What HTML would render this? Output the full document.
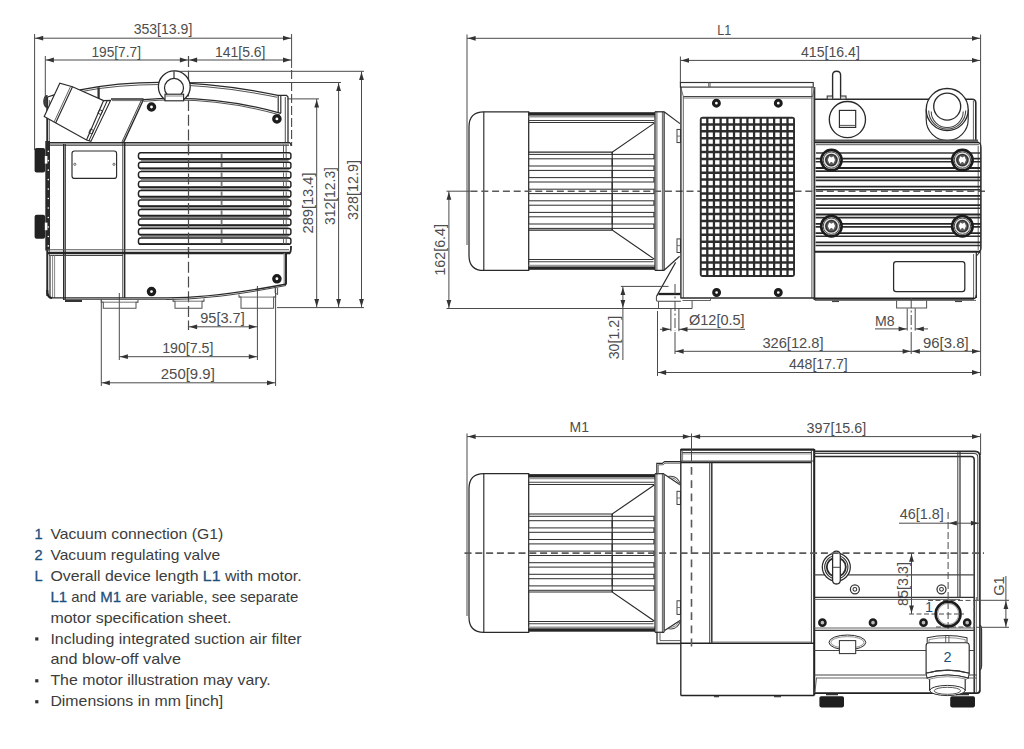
<!DOCTYPE html>
<html lang="en"><head><meta charset="utf-8"><title>Dimensional drawing</title>
<style>
html,body{margin:0;padding:0;background:#fff;}
body{width:1024px;height:749px;overflow:hidden;position:relative;font-family:"Liberation Sans",sans-serif;}
svg{position:absolute;left:0;top:0;display:block;}
svg text{font-family:"Liberation Sans",sans-serif;}
</style></head><body>
<svg width="1024" height="749" viewBox="0 0 1024 749">
<line x1="34.6" y1="34" x2="34.6" y2="150" stroke="#4a4a4a" stroke-width="1"/>
<line x1="45.3" y1="56" x2="45.3" y2="100" stroke="#4a4a4a" stroke-width="1"/>
<line x1="291.6" y1="34" x2="291.6" y2="68" stroke="#4a4a4a" stroke-width="1"/>
<line x1="291.6" y1="70" x2="291.6" y2="146" stroke="#4a4a4a" stroke-width="1.1" stroke-dasharray="9 3"/>
<line x1="188.5" y1="56" x2="188.5" y2="330" stroke="#4a4a4a" stroke-width="1.2" stroke-dasharray="11 3.7"/>
<line x1="34.6" y1="38.2" x2="291.6" y2="38.2" stroke="#4a4a4a" stroke-width="1"/>
<polygon points="35.4,38.2 43.2,35.8 43.2,40.6" fill="#333"/>
<polygon points="290.8,38.2 283,35.8 283,40.6" fill="#333"/>
<line x1="45.3" y1="60" x2="188.5" y2="60" stroke="#4a4a4a" stroke-width="1"/>
<polygon points="46.1,60 53.9,57.6 53.9,62.4" fill="#333"/>
<polygon points="187.7,60 179.9,57.6 179.9,62.4" fill="#333"/>
<line x1="188.5" y1="60" x2="291.6" y2="60" stroke="#4a4a4a" stroke-width="1"/>
<polygon points="189.3,60 197.1,57.6 197.1,62.4" fill="#333"/>
<polygon points="290.8,60 283,57.6 283,62.4" fill="#333"/>
<text x="163" y="34.2" font-size="15" fill="#4d4d4d" text-anchor="middle" textLength="58.7" lengthAdjust="spacingAndGlyphs">353[13.9]</text>
<text x="116.2" y="56.6" font-size="15" fill="#4d4d4d" text-anchor="middle" textLength="49.5" lengthAdjust="spacingAndGlyphs">195[7.7]</text>
<text x="240.2" y="56.6" font-size="15" fill="#4d4d4d" text-anchor="middle" textLength="50.5" lengthAdjust="spacingAndGlyphs">141[5.6]</text>
<line x1="174" y1="71.3" x2="364" y2="71.3" stroke="#4a4a4a" stroke-width="1"/>
<line x1="190" y1="82.5" x2="341" y2="82.5" stroke="#4a4a4a" stroke-width="1"/>
<line x1="287.5" y1="98.9" x2="319" y2="98.9" stroke="#4a4a4a" stroke-width="1"/>
<line x1="277" y1="307.6" x2="364" y2="307.6" stroke="#4a4a4a" stroke-width="1"/>
<line x1="316.7" y1="98.9" x2="316.7" y2="307.6" stroke="#4a4a4a" stroke-width="1"/>
<polygon points="316.7,99.7 314.3,107.5 319.1,107.5" fill="#333"/>
<polygon points="316.7,306.8 314.3,299 319.1,299" fill="#333"/>
<line x1="338.6" y1="82.5" x2="338.6" y2="307.6" stroke="#4a4a4a" stroke-width="1"/>
<polygon points="338.6,83.3 336.2,91.1 341,91.1" fill="#333"/>
<polygon points="338.6,306.8 336.2,299 341,299" fill="#333"/>
<line x1="361.5" y1="71.3" x2="361.5" y2="307.6" stroke="#4a4a4a" stroke-width="1"/>
<polygon points="361.5,72.1 359.1,79.9 363.9,79.9" fill="#333"/>
<polygon points="361.5,306.8 359.1,299 363.9,299" fill="#333"/>
<text x="313" y="203" font-size="15" fill="#4d4d4d" text-anchor="middle" transform="rotate(-90 313 203)" textLength="61" lengthAdjust="spacingAndGlyphs">289[13.4]</text>
<text x="335.2" y="196" font-size="15" fill="#4d4d4d" text-anchor="middle" transform="rotate(-90 335.2 196)" textLength="58" lengthAdjust="spacingAndGlyphs">312[12.3]</text>
<text x="358" y="190" font-size="15" fill="#4d4d4d" text-anchor="middle" transform="rotate(-90 358 190)" textLength="60" lengthAdjust="spacingAndGlyphs">328[12.9]</text>
<line x1="101.3" y1="299" x2="101.3" y2="386" stroke="#4a4a4a" stroke-width="1"/>
<line x1="119.3" y1="293" x2="119.3" y2="360" stroke="#4a4a4a" stroke-width="1"/>
<line x1="257.4" y1="286" x2="257.4" y2="360" stroke="#4a4a4a" stroke-width="1"/>
<line x1="275.6" y1="288" x2="275.6" y2="386" stroke="#4a4a4a" stroke-width="1"/>
<line x1="188.5" y1="326.8" x2="257.4" y2="326.8" stroke="#4a4a4a" stroke-width="1"/>
<polygon points="189.3,326.8 197.1,324.4 197.1,329.2" fill="#333"/>
<polygon points="256.6,326.8 248.8,324.4 248.8,329.2" fill="#333"/>
<line x1="119.3" y1="356.7" x2="257.4" y2="356.7" stroke="#4a4a4a" stroke-width="1"/>
<polygon points="120.1,356.7 127.9,354.3 127.9,359.1" fill="#333"/>
<polygon points="256.6,356.7 248.8,354.3 248.8,359.1" fill="#333"/>
<line x1="101.3" y1="382.8" x2="275.6" y2="382.8" stroke="#4a4a4a" stroke-width="1"/>
<polygon points="102.1,382.8 109.9,380.4 109.9,385.2" fill="#333"/>
<polygon points="274.8,382.8 267,380.4 267,385.2" fill="#333"/>
<text x="222.5" y="323" font-size="15" fill="#4d4d4d" text-anchor="middle" textLength="44.5" lengthAdjust="spacingAndGlyphs">95[3.7]</text>
<text x="187.8" y="353.2" font-size="15" fill="#4d4d4d" text-anchor="middle" textLength="51.3" lengthAdjust="spacingAndGlyphs">190[7.5]</text>
<text x="187.8" y="379.3" font-size="15" fill="#4d4d4d" text-anchor="middle" textLength="54" lengthAdjust="spacingAndGlyphs">250[9.9]</text>
<path d="M47.5 97 Q 60 92.5 80 89.8 Q 168 72.5 278 95.4" fill="none" stroke="#2a2a2a" stroke-width="1.26"/>
<path d="M82 91.4 Q 168 75.2 277 97.2" fill="none" stroke="#555" stroke-width="1.03"/>
<path d="M143.6 99.6 Q 212.3 93.8 281 113.3" fill="none" stroke="#2a2a2a" stroke-width="1.26"/>
<path d="M143.6 101.2 Q 212.3 95.6 280 115" fill="none" stroke="#555" stroke-width="1.03"/>
<line x1="111" y1="99" x2="143.6" y2="99" stroke="#2a2a2a" stroke-width="1.38"/>
<line x1="112" y1="100.6" x2="143" y2="100.6" stroke="#666" stroke-width="0.92"/>
<line x1="143.6" y1="99.2" x2="123.6" y2="142.4" stroke="#2a2a2a" stroke-width="1.38"/>
<line x1="141.6" y1="99.6" x2="121.8" y2="142.4" stroke="#444" stroke-width="1.03"/>
<line x1="98.6" y1="87.3" x2="98.6" y2="98.3" stroke="#333" stroke-width="2.3"/>
<path d="M278 95.4 L286.5 95.4 L288 97 L288 142.4" fill="none" stroke="#2a2a2a" stroke-width="1.26"/>
<line x1="278.2" y1="95.4" x2="278.2" y2="112.6" stroke="#2a2a2a" stroke-width="1.15"/>
<line x1="280.8" y1="96" x2="280.8" y2="113.3" stroke="#2a2a2a" stroke-width="1.15"/>
<line x1="285.3" y1="97" x2="285.3" y2="142.4" stroke="#555" stroke-width="1.03"/>
<clipPath id="cpe"><rect x="150" y="60" width="50" height="40.6"/></clipPath>
<g clip-path="url(#cpe)">
<circle cx="174.3" cy="86.8" r="15.9" fill="#fff" stroke="#2a2a2a" stroke-width="1.32"/>
<circle cx="174" cy="87.9" r="9.5" fill="#fff" stroke="#2a2a2a" stroke-width="1.26"/>
</g>
<line x1="174" y1="71.2" x2="174" y2="78.4" stroke="#2a2a2a" stroke-width="1.15"/>
<rect x="165" y="94.2" width="18.6" height="6.6" fill="#fff" stroke="#2a2a2a" stroke-width="1.15"/>
<line x1="165" y1="96" x2="183.6" y2="96" stroke="#666" stroke-width="0.8"/>
<line x1="47.2" y1="97" x2="47.2" y2="296" stroke="#2a2a2a" stroke-width="1.84"/>
<line x1="49.3" y1="100" x2="49.3" y2="296" stroke="#555" stroke-width="0.92"/>
<path d="M47 95.5 A 3.2 6 0 0 0 47 107.5 Z" fill="#444" stroke="#333" stroke-width="1.15"/>
<path d="M59.8 83.2 L44.2 116.5 L86.5 140 L90.9 141.4 L110.6 100.4 L103.6 100.6 L72.5 86.7 Z" fill="#fff" stroke="#2a2a2a" stroke-width="1.15"/>
<line x1="72.5" y1="86.7" x2="55.6" y2="123" stroke="#2a2a2a" stroke-width="1.15"/>
<line x1="70.7" y1="86.2" x2="54" y2="122.2" stroke="#555" stroke-width="0.92"/>
<line x1="103.6" y1="100.6" x2="86.5" y2="140" stroke="#2a2a2a" stroke-width="1.15"/>
<line x1="107.3" y1="100.5" x2="88.9" y2="140.9" stroke="#2a2a2a" stroke-width="1.03"/>
<path d="M99.5 109.6 L102.6 111 L101 114.6 L97.9 113.2 Z" fill="none" stroke="#2a2a2a" stroke-width="0.92"/>
<path d="M90.5 129 L93.6 130.4 L92 134 L88.9 132.6 Z" fill="none" stroke="#2a2a2a" stroke-width="0.92"/>
<line x1="47.2" y1="142.7" x2="289" y2="142.7" stroke="#2a2a2a" stroke-width="1.49"/>
<line x1="49" y1="145.2" x2="289" y2="145.2" stroke="#3a3a3a" stroke-width="1.26"/>
<path d="M289 142.4 Q 291 143 291 146" fill="none" stroke="#2a2a2a" stroke-width="1.15"/>
<line x1="63.7" y1="144" x2="63.7" y2="300" stroke="#2a2a2a" stroke-width="1.38"/>
<line x1="65.3" y1="144" x2="65.3" y2="300" stroke="#3a3a3a" stroke-width="1.15"/>
<line x1="122.8" y1="143" x2="122.8" y2="298" stroke="#444" stroke-width="1.03"/>
<line x1="124.7" y1="143" x2="124.7" y2="298" stroke="#2a2a2a" stroke-width="1.38"/>
<rect x="72" y="151" width="44.6" height="27.4" fill="none" stroke="#2a2a2a" stroke-width="1.15" rx="2.5"/>
<circle cx="74.8" cy="164.3" r="1.1" fill="none" stroke="#444" stroke-width="0.8"/>
<circle cx="114" cy="164.3" r="1.1" fill="none" stroke="#444" stroke-width="0.8"/>
<rect x="34.6" y="148" width="10.5" height="24.6" fill="#222" rx="2"/>
<rect x="34.6" y="214.8" width="10.5" height="24" fill="#222" rx="2"/>
<rect x="45.3" y="141" width="4.7" height="109.5" fill="#2a2a2a"/>
<circle cx="48.3" cy="151.2" r="0.8" fill="#fff"/>
<circle cx="48.3" cy="160.67" r="0.8" fill="#fff"/>
<circle cx="48.3" cy="170.14" r="0.8" fill="#fff"/>
<circle cx="48.3" cy="179.61" r="0.8" fill="#fff"/>
<circle cx="48.3" cy="189.08" r="0.8" fill="#fff"/>
<circle cx="48.3" cy="198.55" r="0.8" fill="#fff"/>
<circle cx="48.3" cy="208.02" r="0.8" fill="#fff"/>
<circle cx="48.3" cy="217.49" r="0.8" fill="#fff"/>
<circle cx="48.3" cy="226.96" r="0.8" fill="#fff"/>
<circle cx="48.3" cy="236.43" r="0.8" fill="#fff"/>
<circle cx="48.3" cy="245.9" r="0.8" fill="#fff"/>
<rect x="44.8" y="156" width="2.6" height="7.6" fill="#fff"/>
<rect x="44.8" y="222.6" width="2.6" height="7.6" fill="#fff"/>
<path d="M140.6 152.7 H 288.8 Q 290.9 152.7 290.9 154.8 V 157 Q 290.9 159.1 288.8 159.1 H 140.6 Q 138.4 159.1 138.4 155.9 Q 138.4 152.7 140.6 152.7 Z" fill="#fff" stroke="#222" stroke-width="1.44"/>
<line x1="140" y1="158.8" x2="289" y2="158.8" stroke="#222" stroke-width="1.72"/>
<line x1="141" y1="160.65" x2="288.5" y2="160.65" stroke="#8a8a8a" stroke-width="1.49"/>
<line x1="221.6" y1="153.5" x2="221.6" y2="158.3" stroke="#777" stroke-width="1.84"/>
<line x1="283.5" y1="153.5" x2="283.5" y2="158.3" stroke="#666" stroke-width="1.03"/>
<line x1="286.2" y1="153.5" x2="286.2" y2="158.3" stroke="#666" stroke-width="1.03"/>
<path d="M140.6 162.17 H 288.8 Q 290.9 162.17 290.9 164.27 V 166.47 Q 290.9 168.57 288.8 168.57 H 140.6 Q 138.4 168.57 138.4 165.37 Q 138.4 162.17 140.6 162.17 Z" fill="#fff" stroke="#222" stroke-width="1.44"/>
<line x1="140" y1="168.27" x2="289" y2="168.27" stroke="#222" stroke-width="1.72"/>
<line x1="141" y1="170.12" x2="288.5" y2="170.12" stroke="#8a8a8a" stroke-width="1.49"/>
<line x1="221.6" y1="162.97" x2="221.6" y2="167.77" stroke="#777" stroke-width="1.84"/>
<line x1="283.5" y1="162.97" x2="283.5" y2="167.77" stroke="#666" stroke-width="1.03"/>
<line x1="286.2" y1="162.97" x2="286.2" y2="167.77" stroke="#666" stroke-width="1.03"/>
<path d="M140.6 171.64 H 288.8 Q 290.9 171.64 290.9 173.74 V 175.94 Q 290.9 178.04 288.8 178.04 H 140.6 Q 138.4 178.04 138.4 174.84 Q 138.4 171.64 140.6 171.64 Z" fill="#fff" stroke="#222" stroke-width="1.44"/>
<line x1="140" y1="177.74" x2="289" y2="177.74" stroke="#222" stroke-width="1.72"/>
<line x1="141" y1="179.59" x2="288.5" y2="179.59" stroke="#8a8a8a" stroke-width="1.49"/>
<line x1="221.6" y1="172.44" x2="221.6" y2="177.24" stroke="#777" stroke-width="1.84"/>
<line x1="283.5" y1="172.44" x2="283.5" y2="177.24" stroke="#666" stroke-width="1.03"/>
<line x1="286.2" y1="172.44" x2="286.2" y2="177.24" stroke="#666" stroke-width="1.03"/>
<path d="M140.6 181.11 H 288.8 Q 290.9 181.11 290.9 183.21 V 185.41 Q 290.9 187.51 288.8 187.51 H 140.6 Q 138.4 187.51 138.4 184.31 Q 138.4 181.11 140.6 181.11 Z" fill="#fff" stroke="#222" stroke-width="1.44"/>
<line x1="140" y1="187.21" x2="289" y2="187.21" stroke="#222" stroke-width="1.72"/>
<line x1="141" y1="189.06" x2="288.5" y2="189.06" stroke="#8a8a8a" stroke-width="1.49"/>
<line x1="221.6" y1="181.91" x2="221.6" y2="186.71" stroke="#777" stroke-width="1.84"/>
<line x1="283.5" y1="181.91" x2="283.5" y2="186.71" stroke="#666" stroke-width="1.03"/>
<line x1="286.2" y1="181.91" x2="286.2" y2="186.71" stroke="#666" stroke-width="1.03"/>
<path d="M140.6 190.58 H 288.8 Q 290.9 190.58 290.9 192.68 V 194.88 Q 290.9 196.98 288.8 196.98 H 140.6 Q 138.4 196.98 138.4 193.78 Q 138.4 190.58 140.6 190.58 Z" fill="#fff" stroke="#222" stroke-width="1.44"/>
<line x1="140" y1="196.68" x2="289" y2="196.68" stroke="#222" stroke-width="1.72"/>
<line x1="141" y1="198.53" x2="288.5" y2="198.53" stroke="#8a8a8a" stroke-width="1.49"/>
<line x1="221.6" y1="191.38" x2="221.6" y2="196.18" stroke="#777" stroke-width="1.84"/>
<line x1="283.5" y1="191.38" x2="283.5" y2="196.18" stroke="#666" stroke-width="1.03"/>
<line x1="286.2" y1="191.38" x2="286.2" y2="196.18" stroke="#666" stroke-width="1.03"/>
<path d="M140.6 200.05 H 288.8 Q 290.9 200.05 290.9 202.15 V 204.35 Q 290.9 206.45 288.8 206.45 H 140.6 Q 138.4 206.45 138.4 203.25 Q 138.4 200.05 140.6 200.05 Z" fill="#fff" stroke="#222" stroke-width="1.44"/>
<line x1="140" y1="206.15" x2="289" y2="206.15" stroke="#222" stroke-width="1.72"/>
<line x1="141" y1="208" x2="288.5" y2="208" stroke="#8a8a8a" stroke-width="1.49"/>
<line x1="221.6" y1="200.85" x2="221.6" y2="205.65" stroke="#777" stroke-width="1.84"/>
<line x1="283.5" y1="200.85" x2="283.5" y2="205.65" stroke="#666" stroke-width="1.03"/>
<line x1="286.2" y1="200.85" x2="286.2" y2="205.65" stroke="#666" stroke-width="1.03"/>
<path d="M140.6 209.52 H 288.8 Q 290.9 209.52 290.9 211.62 V 213.82 Q 290.9 215.92 288.8 215.92 H 140.6 Q 138.4 215.92 138.4 212.72 Q 138.4 209.52 140.6 209.52 Z" fill="#fff" stroke="#222" stroke-width="1.44"/>
<line x1="140" y1="215.62" x2="289" y2="215.62" stroke="#222" stroke-width="1.72"/>
<line x1="141" y1="217.47" x2="288.5" y2="217.47" stroke="#8a8a8a" stroke-width="1.49"/>
<line x1="221.6" y1="210.32" x2="221.6" y2="215.12" stroke="#777" stroke-width="1.84"/>
<line x1="283.5" y1="210.32" x2="283.5" y2="215.12" stroke="#666" stroke-width="1.03"/>
<line x1="286.2" y1="210.32" x2="286.2" y2="215.12" stroke="#666" stroke-width="1.03"/>
<path d="M140.6 218.99 H 288.8 Q 290.9 218.99 290.9 221.09 V 223.29 Q 290.9 225.39 288.8 225.39 H 140.6 Q 138.4 225.39 138.4 222.19 Q 138.4 218.99 140.6 218.99 Z" fill="#fff" stroke="#222" stroke-width="1.44"/>
<line x1="140" y1="225.09" x2="289" y2="225.09" stroke="#222" stroke-width="1.72"/>
<line x1="141" y1="226.94" x2="288.5" y2="226.94" stroke="#8a8a8a" stroke-width="1.49"/>
<line x1="221.6" y1="219.79" x2="221.6" y2="224.59" stroke="#777" stroke-width="1.84"/>
<line x1="283.5" y1="219.79" x2="283.5" y2="224.59" stroke="#666" stroke-width="1.03"/>
<line x1="286.2" y1="219.79" x2="286.2" y2="224.59" stroke="#666" stroke-width="1.03"/>
<path d="M140.6 228.46 H 288.8 Q 290.9 228.46 290.9 230.56 V 232.76 Q 290.9 234.86 288.8 234.86 H 140.6 Q 138.4 234.86 138.4 231.66 Q 138.4 228.46 140.6 228.46 Z" fill="#fff" stroke="#222" stroke-width="1.44"/>
<line x1="140" y1="234.56" x2="289" y2="234.56" stroke="#222" stroke-width="1.72"/>
<line x1="141" y1="236.41" x2="288.5" y2="236.41" stroke="#8a8a8a" stroke-width="1.49"/>
<line x1="221.6" y1="229.26" x2="221.6" y2="234.06" stroke="#777" stroke-width="1.84"/>
<line x1="283.5" y1="229.26" x2="283.5" y2="234.06" stroke="#666" stroke-width="1.03"/>
<line x1="286.2" y1="229.26" x2="286.2" y2="234.06" stroke="#666" stroke-width="1.03"/>
<path d="M140.6 237.93 H 288.8 Q 290.9 237.93 290.9 240.03 V 242.23 Q 290.9 244.33 288.8 244.33 H 140.6 Q 138.4 244.33 138.4 241.13 Q 138.4 237.93 140.6 237.93 Z" fill="#fff" stroke="#222" stroke-width="1.44"/>
<line x1="140" y1="244.03" x2="289" y2="244.03" stroke="#222" stroke-width="1.72"/>
<line x1="221.6" y1="238.73" x2="221.6" y2="243.53" stroke="#777" stroke-width="1.84"/>
<line x1="283.5" y1="238.73" x2="283.5" y2="243.53" stroke="#666" stroke-width="1.03"/>
<line x1="286.2" y1="238.73" x2="286.2" y2="243.53" stroke="#666" stroke-width="1.03"/>
<line x1="188.5" y1="144.2" x2="188.5" y2="254" stroke="#4a4a4a" stroke-width="1.2" stroke-dasharray="11 3.7"/>
<line x1="47.2" y1="249.7" x2="289" y2="249.7" stroke="#555" stroke-width="1.15"/>
<line x1="47.2" y1="253" x2="289.5" y2="253" stroke="#262626" stroke-width="2.42"/>
<line x1="49" y1="255.6" x2="123" y2="255.6" stroke="#444" stroke-width="1.03"/>
<path d="M289 253.6 Q 291.2 252.6 291 246" fill="none" stroke="#262626" stroke-width="1.84"/>
<line x1="283.5" y1="144.6" x2="283.5" y2="152" stroke="#555" stroke-width="1.03"/>
<line x1="286.1" y1="144.6" x2="286.1" y2="152" stroke="#555" stroke-width="1.03"/>
<line x1="50.5" y1="255" x2="50.5" y2="298" stroke="#666" stroke-width="0.8"/>
<line x1="52.6" y1="255" x2="52.6" y2="298" stroke="#666" stroke-width="0.8"/>
<line x1="54.6" y1="255" x2="54.6" y2="298" stroke="#666" stroke-width="0.8"/>
<path d="M47.2 290 Q 47.2 298 52 298" fill="none" stroke="#222" stroke-width="2.07"/>
<line x1="50" y1="297.9" x2="124" y2="297.9" stroke="#2a2a2a" stroke-width="1.38"/>
<line x1="64" y1="299.4" x2="124" y2="299.4" stroke="#444" stroke-width="0.92"/>
<rect x="65" y="300" width="17" height="2" fill="#333"/>
<line x1="286" y1="253" x2="286" y2="284" stroke="#262626" stroke-width="1.95"/>
<line x1="284.2" y1="253" x2="284.2" y2="284" stroke="#888" stroke-width="1.15"/>
<path d="M124 297.9 H 166 Q 212 298.2 286.6 284" fill="none" stroke="#2a2a2a" stroke-width="1.38"/>
<path d="M166 299.4 Q 212 299.8 286 285.6" fill="none" stroke="#444" stroke-width="1.03"/>
<path d="M275.2 288.2 V 293 L 277.6 294.6 V 287.8" fill="none" stroke="#444" stroke-width="0.92"/>
<line x1="124" y1="299.4" x2="166" y2="299.4" stroke="#444" stroke-width="0.92"/>
<path d="M101.3 299.6 L101.3 302.2 L103.3 302.2 L103.3 308.2 L136 308.2 L136 302.2 L138 302.2 L138 299.6" fill="none" stroke="#555" stroke-width="1.03"/>
<line x1="101.3" y1="302.2" x2="138" y2="302.2" stroke="#666" stroke-width="0.92"/>
<path d="M173 298.6 L173 301.2 L175 301.2 L175 308.2 L202 308.2 L202 301.2 L204 301.2 L204 298.6" fill="none" stroke="#555" stroke-width="1.03"/>
<line x1="173" y1="301.2" x2="204" y2="301.2" stroke="#666" stroke-width="0.92"/>
<path d="M239 294.5 L239 297.1 L241 297.1 L241 308.2 L273.6 308.2 L273.6 297.1 L275.6 297.1 L275.6 294.5" fill="none" stroke="#555" stroke-width="1.03"/>
<line x1="239" y1="297.1" x2="275.6" y2="297.1" stroke="#666" stroke-width="0.92"/>
<circle cx="151.5" cy="107" r="3.1" fill="#fff" stroke="#1c1c1c" stroke-width="3.33"/>
<circle cx="276.9" cy="118.9" r="3.1" fill="#fff" stroke="#1c1c1c" stroke-width="3.33"/>
<circle cx="276.9" cy="278.8" r="3.1" fill="#fff" stroke="#1c1c1c" stroke-width="3.33"/>
<circle cx="151.5" cy="291.6" r="3.1" fill="#fff" stroke="#1c1c1c" stroke-width="3.33"/>
<line x1="467" y1="34.5" x2="467" y2="245" stroke="#4a4a4a" stroke-width="1"/>
<line x1="980.6" y1="34.5" x2="980.6" y2="376" stroke="#4a4a4a" stroke-width="1"/>
<line x1="680.4" y1="56.5" x2="680.4" y2="83" stroke="#4a4a4a" stroke-width="1"/>
<line x1="467" y1="38.3" x2="980.6" y2="38.3" stroke="#4a4a4a" stroke-width="1"/>
<polygon points="467.8,38.3 475.6,35.9 475.6,40.7" fill="#333"/>
<polygon points="979.8,38.3 972,35.9 972,40.7" fill="#333"/>
<line x1="680.4" y1="60.4" x2="980.6" y2="60.4" stroke="#4a4a4a" stroke-width="1"/>
<polygon points="681.2,60.4 689,58 689,62.8" fill="#333"/>
<polygon points="979.8,60.4 972,58 972,62.8" fill="#333"/>
<text x="724.3" y="34.8" font-size="15" fill="#4d4d4d" text-anchor="middle" textLength="14" lengthAdjust="spacingAndGlyphs">L1</text>
<text x="830.4" y="56.9" font-size="15" fill="#4d4d4d" text-anchor="middle" textLength="58.8" lengthAdjust="spacingAndGlyphs">415[16.4]</text>
<path d="M483.8 111.8 H 528.7 V 270.4 H 483.8 Q 469 270.4 469 255.4 V 126.8 Q 469 111.8 483.8 111.8 Z" fill="#fff" stroke="#2a2a2a" stroke-width="1.26"/>
<line x1="483.8" y1="111.8" x2="483.8" y2="270.4" stroke="#2a2a2a" stroke-width="1.15"/>
<rect x="528.7" y="112.2" width="126.3" height="3.4" fill="#262626"/>
<line x1="528.7" y1="116.7" x2="655" y2="116.7" stroke="#999" stroke-width="1.49"/>
<line x1="528.7" y1="120.4" x2="654" y2="120.4" stroke="#444" stroke-width="1.03"/>
<line x1="528.7" y1="122.6" x2="654" y2="122.6" stroke="#333" stroke-width="1.03"/>
<rect x="528.7" y="266.4" width="126.3" height="3.4" fill="#262626"/>
<line x1="528.7" y1="265.4" x2="655" y2="265.4" stroke="#999" stroke-width="1.49"/>
<line x1="528.7" y1="261.8" x2="653.5" y2="261.8" stroke="#444" stroke-width="1.03"/>
<line x1="528.7" y1="259.6" x2="653.5" y2="259.6" stroke="#333" stroke-width="1.03"/>
<path d="M528.7 152.1 L612.2 152.1 L654.3 123.1" fill="none" stroke="#2a2a2a" stroke-width="1.15"/>
<path d="M528.7 230.1 L612.2 230.1 L654.3 259.1" fill="none" stroke="#2a2a2a" stroke-width="1.15"/>
<line x1="612.2" y1="152.1" x2="612.2" y2="230.1" stroke="#2a2a2a" stroke-width="1.15"/>
<rect x="528.7" y="154.4" width="125.2" height="4.4" fill="#fff" stroke="#333" stroke-width="1.03"/>
<rect x="528.7" y="166" width="125.2" height="4.4" fill="#fff" stroke="#333" stroke-width="1.03"/>
<rect x="528.7" y="177.6" width="125.2" height="4.4" fill="#fff" stroke="#333" stroke-width="1.03"/>
<rect x="528.7" y="189.2" width="125.2" height="4.4" fill="#fff" stroke="#333" stroke-width="1.03"/>
<rect x="528.7" y="200.8" width="125.2" height="4.4" fill="#fff" stroke="#333" stroke-width="1.03"/>
<rect x="528.7" y="212.4" width="125.2" height="4.4" fill="#fff" stroke="#333" stroke-width="1.03"/>
<rect x="528.7" y="224" width="125.2" height="4.4" fill="#fff" stroke="#333" stroke-width="1.03"/>
<line x1="612.2" y1="152.1" x2="612.2" y2="230.1" stroke="#2a2a2a" stroke-width="1.15"/>
<line x1="655" y1="111.8" x2="655" y2="270.4" stroke="#2a2a2a" stroke-width="1.26"/>
<line x1="656.9" y1="111.8" x2="656.9" y2="270.4" stroke="#555" stroke-width="0.92"/>
<line x1="662.4" y1="111.8" x2="662.4" y2="270.4" stroke="#555" stroke-width="0.92"/>
<line x1="664.1" y1="111.8" x2="664.1" y2="270.4" stroke="#2a2a2a" stroke-width="1.26"/>
<line x1="655" y1="111.8" x2="664.1" y2="111.8" stroke="#2a2a2a" stroke-width="1.26"/>
<line x1="655" y1="270.4" x2="664.1" y2="270.4" stroke="#2a2a2a" stroke-width="1.26"/>
<rect x="677" y="129.4" width="3.4" height="13.2" fill="none" stroke="#333" stroke-width="0.92"/>
<line x1="677" y1="136.1" x2="680.4" y2="136.1" stroke="#555" stroke-width="0.8"/>
<rect x="677" y="238.9" width="3.4" height="13.6" fill="none" stroke="#333" stroke-width="0.92"/>
<line x1="677" y1="245.6" x2="680.4" y2="245.6" stroke="#555" stroke-width="0.8"/>
<line x1="664.1" y1="111.7" x2="680" y2="123.6" stroke="#2a2a2a" stroke-width="1.15"/>
<line x1="664.1" y1="270.3" x2="679.6" y2="256.2" stroke="#2a2a2a" stroke-width="1.15"/>
<line x1="675.6" y1="262.4" x2="656.9" y2="295.6" stroke="#2a2a2a" stroke-width="1.15"/>
<line x1="658.4" y1="294" x2="680.4" y2="294" stroke="#222" stroke-width="2.3"/>
<path d="M658 294.9 Q 656.4 295 656.4 297 V 300 Q 656.4 301.3 658 301.3 H 680.9" fill="none" stroke="#444" stroke-width="1.03"/>
<path d="M658.5 301.3 L658.5 308.5" fill="none" stroke="#555" stroke-width="1.03"/>
<path d="M692.1 300.6 L692.1 308.5" fill="none" stroke="#555" stroke-width="1.03"/>
<line x1="470.5" y1="191.2" x2="985" y2="191.2" stroke="#5a5a5a" stroke-width="1.61" stroke-dasharray="7 3.8"/>
<rect x="680.4" y="82.5" width="132.8" height="4.6" fill="#fff" stroke="#333" stroke-width="1.15"/>
<line x1="710" y1="82.5" x2="710" y2="87.1" stroke="#444" stroke-width="0.92"/>
<line x1="708.6" y1="82.5" x2="708.6" y2="87.1" stroke="#666" stroke-width="0.92"/>
<line x1="680.9" y1="86.8" x2="680.9" y2="298" stroke="#2a2a2a" stroke-width="1.38"/>
<line x1="683.3" y1="96.4" x2="683.3" y2="298" stroke="#555" stroke-width="0.92"/>
<line x1="811.9" y1="87.1" x2="811.9" y2="298" stroke="#555" stroke-width="1.03"/>
<line x1="814.4" y1="87.1" x2="814.4" y2="300" stroke="#333" stroke-width="1.84"/>
<line x1="683.3" y1="96.4" x2="812.5" y2="96.4" stroke="#444" stroke-width="1.03"/>
<line x1="683.3" y1="98" x2="812.5" y2="98" stroke="#666" stroke-width="0.92"/>
<line x1="681" y1="88" x2="683.3" y2="96.4" stroke="#555" stroke-width="0.8"/>
<line x1="814.5" y1="88" x2="812.5" y2="96.4" stroke="#555" stroke-width="0.8"/>
<line x1="680.4" y1="298" x2="814.8" y2="298" stroke="#2a2a2a" stroke-width="1.72"/>
<line x1="682.5" y1="300.5" x2="710.5" y2="300.5" stroke="#555" stroke-width="0.92"/>
<line x1="710.5" y1="298" x2="710.5" y2="300.5" stroke="#555" stroke-width="0.92"/>
<rect x="699.8" y="116.7" width="95.2" height="160.3" fill="#2c2c2c" rx="3"/>
<path d="M701.74 118.75h4.4v4.4h-4.4zM701.74 125.65h4.4v4.4h-4.4zM701.74 132.55h4.4v4.4h-4.4zM701.74 139.45h4.4v4.4h-4.4zM701.74 146.35h4.4v4.4h-4.4zM701.74 153.25h4.4v4.4h-4.4zM701.74 160.15h4.4v4.4h-4.4zM701.74 167.05h4.4v4.4h-4.4zM701.74 173.95h4.4v4.4h-4.4zM701.74 180.85h4.4v4.4h-4.4zM701.74 187.75h4.4v4.4h-4.4zM701.74 194.65h4.4v4.4h-4.4zM701.74 201.55h4.4v4.4h-4.4zM701.74 208.45h4.4v4.4h-4.4zM701.74 215.35h4.4v4.4h-4.4zM701.74 222.25h4.4v4.4h-4.4zM701.74 229.15h4.4v4.4h-4.4zM701.74 236.05h4.4v4.4h-4.4zM701.74 242.95h4.4v4.4h-4.4zM701.74 249.85h4.4v4.4h-4.4zM701.74 256.75h4.4v4.4h-4.4zM701.74 263.65h4.4v4.4h-4.4zM701.74 270.55h4.4v4.4h-4.4zM708.43 118.75h4.4v4.4h-4.4zM708.43 125.65h4.4v4.4h-4.4zM708.43 132.55h4.4v4.4h-4.4zM708.43 139.45h4.4v4.4h-4.4zM708.43 146.35h4.4v4.4h-4.4zM708.43 153.25h4.4v4.4h-4.4zM708.43 160.15h4.4v4.4h-4.4zM708.43 167.05h4.4v4.4h-4.4zM708.43 173.95h4.4v4.4h-4.4zM708.43 180.85h4.4v4.4h-4.4zM708.43 187.75h4.4v4.4h-4.4zM708.43 194.65h4.4v4.4h-4.4zM708.43 201.55h4.4v4.4h-4.4zM708.43 208.45h4.4v4.4h-4.4zM708.43 215.35h4.4v4.4h-4.4zM708.43 222.25h4.4v4.4h-4.4zM708.43 229.15h4.4v4.4h-4.4zM708.43 236.05h4.4v4.4h-4.4zM708.43 242.95h4.4v4.4h-4.4zM708.43 249.85h4.4v4.4h-4.4zM708.43 256.75h4.4v4.4h-4.4zM708.43 263.65h4.4v4.4h-4.4zM708.43 270.55h4.4v4.4h-4.4zM715.11 118.75h4.4v4.4h-4.4zM715.11 125.65h4.4v4.4h-4.4zM715.11 132.55h4.4v4.4h-4.4zM715.11 139.45h4.4v4.4h-4.4zM715.11 146.35h4.4v4.4h-4.4zM715.11 153.25h4.4v4.4h-4.4zM715.11 160.15h4.4v4.4h-4.4zM715.11 167.05h4.4v4.4h-4.4zM715.11 173.95h4.4v4.4h-4.4zM715.11 180.85h4.4v4.4h-4.4zM715.11 187.75h4.4v4.4h-4.4zM715.11 194.65h4.4v4.4h-4.4zM715.11 201.55h4.4v4.4h-4.4zM715.11 208.45h4.4v4.4h-4.4zM715.11 215.35h4.4v4.4h-4.4zM715.11 222.25h4.4v4.4h-4.4zM715.11 229.15h4.4v4.4h-4.4zM715.11 236.05h4.4v4.4h-4.4zM715.11 242.95h4.4v4.4h-4.4zM715.11 249.85h4.4v4.4h-4.4zM715.11 256.75h4.4v4.4h-4.4zM715.11 263.65h4.4v4.4h-4.4zM715.11 270.55h4.4v4.4h-4.4zM721.8 118.75h4.4v4.4h-4.4zM721.8 125.65h4.4v4.4h-4.4zM721.8 132.55h4.4v4.4h-4.4zM721.8 139.45h4.4v4.4h-4.4zM721.8 146.35h4.4v4.4h-4.4zM721.8 153.25h4.4v4.4h-4.4zM721.8 160.15h4.4v4.4h-4.4zM721.8 167.05h4.4v4.4h-4.4zM721.8 173.95h4.4v4.4h-4.4zM721.8 180.85h4.4v4.4h-4.4zM721.8 187.75h4.4v4.4h-4.4zM721.8 194.65h4.4v4.4h-4.4zM721.8 201.55h4.4v4.4h-4.4zM721.8 208.45h4.4v4.4h-4.4zM721.8 215.35h4.4v4.4h-4.4zM721.8 222.25h4.4v4.4h-4.4zM721.8 229.15h4.4v4.4h-4.4zM721.8 236.05h4.4v4.4h-4.4zM721.8 242.95h4.4v4.4h-4.4zM721.8 249.85h4.4v4.4h-4.4zM721.8 256.75h4.4v4.4h-4.4zM721.8 263.65h4.4v4.4h-4.4zM721.8 270.55h4.4v4.4h-4.4zM728.49 118.75h4.4v4.4h-4.4zM728.49 125.65h4.4v4.4h-4.4zM728.49 132.55h4.4v4.4h-4.4zM728.49 139.45h4.4v4.4h-4.4zM728.49 146.35h4.4v4.4h-4.4zM728.49 153.25h4.4v4.4h-4.4zM728.49 160.15h4.4v4.4h-4.4zM728.49 167.05h4.4v4.4h-4.4zM728.49 173.95h4.4v4.4h-4.4zM728.49 180.85h4.4v4.4h-4.4zM728.49 187.75h4.4v4.4h-4.4zM728.49 194.65h4.4v4.4h-4.4zM728.49 201.55h4.4v4.4h-4.4zM728.49 208.45h4.4v4.4h-4.4zM728.49 215.35h4.4v4.4h-4.4zM728.49 222.25h4.4v4.4h-4.4zM728.49 229.15h4.4v4.4h-4.4zM728.49 236.05h4.4v4.4h-4.4zM728.49 242.95h4.4v4.4h-4.4zM728.49 249.85h4.4v4.4h-4.4zM728.49 256.75h4.4v4.4h-4.4zM728.49 263.65h4.4v4.4h-4.4zM728.49 270.55h4.4v4.4h-4.4zM735.17 118.75h4.4v4.4h-4.4zM735.17 125.65h4.4v4.4h-4.4zM735.17 132.55h4.4v4.4h-4.4zM735.17 139.45h4.4v4.4h-4.4zM735.17 146.35h4.4v4.4h-4.4zM735.17 153.25h4.4v4.4h-4.4zM735.17 160.15h4.4v4.4h-4.4zM735.17 167.05h4.4v4.4h-4.4zM735.17 173.95h4.4v4.4h-4.4zM735.17 180.85h4.4v4.4h-4.4zM735.17 187.75h4.4v4.4h-4.4zM735.17 194.65h4.4v4.4h-4.4zM735.17 201.55h4.4v4.4h-4.4zM735.17 208.45h4.4v4.4h-4.4zM735.17 215.35h4.4v4.4h-4.4zM735.17 222.25h4.4v4.4h-4.4zM735.17 229.15h4.4v4.4h-4.4zM735.17 236.05h4.4v4.4h-4.4zM735.17 242.95h4.4v4.4h-4.4zM735.17 249.85h4.4v4.4h-4.4zM735.17 256.75h4.4v4.4h-4.4zM735.17 263.65h4.4v4.4h-4.4zM735.17 270.55h4.4v4.4h-4.4zM741.86 118.75h4.4v4.4h-4.4zM741.86 125.65h4.4v4.4h-4.4zM741.86 132.55h4.4v4.4h-4.4zM741.86 139.45h4.4v4.4h-4.4zM741.86 146.35h4.4v4.4h-4.4zM741.86 153.25h4.4v4.4h-4.4zM741.86 160.15h4.4v4.4h-4.4zM741.86 167.05h4.4v4.4h-4.4zM741.86 173.95h4.4v4.4h-4.4zM741.86 180.85h4.4v4.4h-4.4zM741.86 187.75h4.4v4.4h-4.4zM741.86 194.65h4.4v4.4h-4.4zM741.86 201.55h4.4v4.4h-4.4zM741.86 208.45h4.4v4.4h-4.4zM741.86 215.35h4.4v4.4h-4.4zM741.86 222.25h4.4v4.4h-4.4zM741.86 229.15h4.4v4.4h-4.4zM741.86 236.05h4.4v4.4h-4.4zM741.86 242.95h4.4v4.4h-4.4zM741.86 249.85h4.4v4.4h-4.4zM741.86 256.75h4.4v4.4h-4.4zM741.86 263.65h4.4v4.4h-4.4zM741.86 270.55h4.4v4.4h-4.4zM748.54 118.75h4.4v4.4h-4.4zM748.54 125.65h4.4v4.4h-4.4zM748.54 132.55h4.4v4.4h-4.4zM748.54 139.45h4.4v4.4h-4.4zM748.54 146.35h4.4v4.4h-4.4zM748.54 153.25h4.4v4.4h-4.4zM748.54 160.15h4.4v4.4h-4.4zM748.54 167.05h4.4v4.4h-4.4zM748.54 173.95h4.4v4.4h-4.4zM748.54 180.85h4.4v4.4h-4.4zM748.54 187.75h4.4v4.4h-4.4zM748.54 194.65h4.4v4.4h-4.4zM748.54 201.55h4.4v4.4h-4.4zM748.54 208.45h4.4v4.4h-4.4zM748.54 215.35h4.4v4.4h-4.4zM748.54 222.25h4.4v4.4h-4.4zM748.54 229.15h4.4v4.4h-4.4zM748.54 236.05h4.4v4.4h-4.4zM748.54 242.95h4.4v4.4h-4.4zM748.54 249.85h4.4v4.4h-4.4zM748.54 256.75h4.4v4.4h-4.4zM748.54 263.65h4.4v4.4h-4.4zM748.54 270.55h4.4v4.4h-4.4zM755.23 118.75h4.4v4.4h-4.4zM755.23 125.65h4.4v4.4h-4.4zM755.23 132.55h4.4v4.4h-4.4zM755.23 139.45h4.4v4.4h-4.4zM755.23 146.35h4.4v4.4h-4.4zM755.23 153.25h4.4v4.4h-4.4zM755.23 160.15h4.4v4.4h-4.4zM755.23 167.05h4.4v4.4h-4.4zM755.23 173.95h4.4v4.4h-4.4zM755.23 180.85h4.4v4.4h-4.4zM755.23 187.75h4.4v4.4h-4.4zM755.23 194.65h4.4v4.4h-4.4zM755.23 201.55h4.4v4.4h-4.4zM755.23 208.45h4.4v4.4h-4.4zM755.23 215.35h4.4v4.4h-4.4zM755.23 222.25h4.4v4.4h-4.4zM755.23 229.15h4.4v4.4h-4.4zM755.23 236.05h4.4v4.4h-4.4zM755.23 242.95h4.4v4.4h-4.4zM755.23 249.85h4.4v4.4h-4.4zM755.23 256.75h4.4v4.4h-4.4zM755.23 263.65h4.4v4.4h-4.4zM755.23 270.55h4.4v4.4h-4.4zM761.91 118.75h4.4v4.4h-4.4zM761.91 125.65h4.4v4.4h-4.4zM761.91 132.55h4.4v4.4h-4.4zM761.91 139.45h4.4v4.4h-4.4zM761.91 146.35h4.4v4.4h-4.4zM761.91 153.25h4.4v4.4h-4.4zM761.91 160.15h4.4v4.4h-4.4zM761.91 167.05h4.4v4.4h-4.4zM761.91 173.95h4.4v4.4h-4.4zM761.91 180.85h4.4v4.4h-4.4zM761.91 187.75h4.4v4.4h-4.4zM761.91 194.65h4.4v4.4h-4.4zM761.91 201.55h4.4v4.4h-4.4zM761.91 208.45h4.4v4.4h-4.4zM761.91 215.35h4.4v4.4h-4.4zM761.91 222.25h4.4v4.4h-4.4zM761.91 229.15h4.4v4.4h-4.4zM761.91 236.05h4.4v4.4h-4.4zM761.91 242.95h4.4v4.4h-4.4zM761.91 249.85h4.4v4.4h-4.4zM761.91 256.75h4.4v4.4h-4.4zM761.91 263.65h4.4v4.4h-4.4zM761.91 270.55h4.4v4.4h-4.4zM768.6 118.75h4.4v4.4h-4.4zM768.6 125.65h4.4v4.4h-4.4zM768.6 132.55h4.4v4.4h-4.4zM768.6 139.45h4.4v4.4h-4.4zM768.6 146.35h4.4v4.4h-4.4zM768.6 153.25h4.4v4.4h-4.4zM768.6 160.15h4.4v4.4h-4.4zM768.6 167.05h4.4v4.4h-4.4zM768.6 173.95h4.4v4.4h-4.4zM768.6 180.85h4.4v4.4h-4.4zM768.6 187.75h4.4v4.4h-4.4zM768.6 194.65h4.4v4.4h-4.4zM768.6 201.55h4.4v4.4h-4.4zM768.6 208.45h4.4v4.4h-4.4zM768.6 215.35h4.4v4.4h-4.4zM768.6 222.25h4.4v4.4h-4.4zM768.6 229.15h4.4v4.4h-4.4zM768.6 236.05h4.4v4.4h-4.4zM768.6 242.95h4.4v4.4h-4.4zM768.6 249.85h4.4v4.4h-4.4zM768.6 256.75h4.4v4.4h-4.4zM768.6 263.65h4.4v4.4h-4.4zM768.6 270.55h4.4v4.4h-4.4zM775.29 118.75h4.4v4.4h-4.4zM775.29 125.65h4.4v4.4h-4.4zM775.29 132.55h4.4v4.4h-4.4zM775.29 139.45h4.4v4.4h-4.4zM775.29 146.35h4.4v4.4h-4.4zM775.29 153.25h4.4v4.4h-4.4zM775.29 160.15h4.4v4.4h-4.4zM775.29 167.05h4.4v4.4h-4.4zM775.29 173.95h4.4v4.4h-4.4zM775.29 180.85h4.4v4.4h-4.4zM775.29 187.75h4.4v4.4h-4.4zM775.29 194.65h4.4v4.4h-4.4zM775.29 201.55h4.4v4.4h-4.4zM775.29 208.45h4.4v4.4h-4.4zM775.29 215.35h4.4v4.4h-4.4zM775.29 222.25h4.4v4.4h-4.4zM775.29 229.15h4.4v4.4h-4.4zM775.29 236.05h4.4v4.4h-4.4zM775.29 242.95h4.4v4.4h-4.4zM775.29 249.85h4.4v4.4h-4.4zM775.29 256.75h4.4v4.4h-4.4zM775.29 263.65h4.4v4.4h-4.4zM775.29 270.55h4.4v4.4h-4.4zM781.97 118.75h4.4v4.4h-4.4zM781.97 125.65h4.4v4.4h-4.4zM781.97 132.55h4.4v4.4h-4.4zM781.97 139.45h4.4v4.4h-4.4zM781.97 146.35h4.4v4.4h-4.4zM781.97 153.25h4.4v4.4h-4.4zM781.97 160.15h4.4v4.4h-4.4zM781.97 167.05h4.4v4.4h-4.4zM781.97 173.95h4.4v4.4h-4.4zM781.97 180.85h4.4v4.4h-4.4zM781.97 187.75h4.4v4.4h-4.4zM781.97 194.65h4.4v4.4h-4.4zM781.97 201.55h4.4v4.4h-4.4zM781.97 208.45h4.4v4.4h-4.4zM781.97 215.35h4.4v4.4h-4.4zM781.97 222.25h4.4v4.4h-4.4zM781.97 229.15h4.4v4.4h-4.4zM781.97 236.05h4.4v4.4h-4.4zM781.97 242.95h4.4v4.4h-4.4zM781.97 249.85h4.4v4.4h-4.4zM781.97 256.75h4.4v4.4h-4.4zM781.97 263.65h4.4v4.4h-4.4zM781.97 270.55h4.4v4.4h-4.4zM788.66 118.75h4.4v4.4h-4.4zM788.66 125.65h4.4v4.4h-4.4zM788.66 132.55h4.4v4.4h-4.4zM788.66 139.45h4.4v4.4h-4.4zM788.66 146.35h4.4v4.4h-4.4zM788.66 153.25h4.4v4.4h-4.4zM788.66 160.15h4.4v4.4h-4.4zM788.66 167.05h4.4v4.4h-4.4zM788.66 173.95h4.4v4.4h-4.4zM788.66 180.85h4.4v4.4h-4.4zM788.66 187.75h4.4v4.4h-4.4zM788.66 194.65h4.4v4.4h-4.4zM788.66 201.55h4.4v4.4h-4.4zM788.66 208.45h4.4v4.4h-4.4zM788.66 215.35h4.4v4.4h-4.4zM788.66 222.25h4.4v4.4h-4.4zM788.66 229.15h4.4v4.4h-4.4zM788.66 236.05h4.4v4.4h-4.4zM788.66 242.95h4.4v4.4h-4.4zM788.66 249.85h4.4v4.4h-4.4zM788.66 256.75h4.4v4.4h-4.4zM788.66 263.65h4.4v4.4h-4.4zM788.66 270.55h4.4v4.4h-4.4z" fill="#fff"/>
<circle cx="716.4" cy="103.2" r="2.9" fill="#fff" stroke="#1c1c1c" stroke-width="3.1"/>
<circle cx="778.3" cy="103.2" r="2.9" fill="#fff" stroke="#1c1c1c" stroke-width="3.1"/>
<circle cx="716.6" cy="292.5" r="2.9" fill="#fff" stroke="#1c1c1c" stroke-width="3.1"/>
<circle cx="778.3" cy="292.5" r="2.9" fill="#fff" stroke="#1c1c1c" stroke-width="3.1"/>
<path d="M815 99.3 H 972 Q 975.8 99.3 975.8 103 V 141" fill="none" stroke="#2a2a2a" stroke-width="1.61"/>
<line x1="973.4" y1="101" x2="973.4" y2="141" stroke="#555" stroke-width="0.92"/>
<path d="M832.6 98 V 75.2 Q 832.6 71.2 836.6 71.2 Q 840.6 71.2 840.6 75.2 V 98" fill="#fff" stroke="#2a2a2a" stroke-width="1.38"/>
<rect x="827.2" y="96" width="5.4" height="3.2" fill="#ddd" stroke="#333" stroke-width="1.03"/>
<rect x="840.6" y="96" width="5.4" height="3.2" fill="#ddd" stroke="#333" stroke-width="1.03"/>
<circle cx="847.4" cy="119.6" r="18.1" fill="#fff" stroke="#2a2a2a" stroke-width="1.32"/>
<rect x="839.4" y="110.4" width="16.3" height="17" fill="none" stroke="#2a2a2a" stroke-width="1.15"/>
<line x1="839.4" y1="125.4" x2="855.7" y2="125.4" stroke="#444" stroke-width="0.92"/>
<path d="M926.2 109.5 V 119.6 A 21 21 0 0 0 968.2 119.6 V 109.5" fill="#fff" stroke="#2a2a2a" stroke-width="1.15"/>
<circle cx="947.2" cy="109.5" r="21" fill="#fff" stroke="#2a2a2a" stroke-width="1.32"/>
<path d="M928.7 110.6 A 18.5 18.5 0 0 0 965.7 110.6" fill="none" stroke="#444" stroke-width="1.03"/>
<path d="M931.2 111.6 A 16 16 0 0 0 963.2 111.6" fill="none" stroke="#444" stroke-width="1.03"/>
<circle cx="947.2" cy="106.6" r="13.5" fill="#fff" stroke="#2a2a2a" stroke-width="1.32"/>
<line x1="815" y1="140.6" x2="978" y2="140.6" stroke="#555" stroke-width="2.07"/>
<line x1="815" y1="142.4" x2="979" y2="142.4" stroke="#222" stroke-width="1.38"/>
<line x1="816" y1="144.4" x2="979" y2="144.4" stroke="#777" stroke-width="1.84"/>
<path d="M978.2 142.4 Q 981 143 981 148 V 248 Q 981 251 978.4 252" fill="none" stroke="#2a2a2a" stroke-width="1.26"/>
<line x1="978.2" y1="146" x2="978.2" y2="250" stroke="#555" stroke-width="0.92"/>
<line x1="816" y1="153" x2="980" y2="153" stroke="#333" stroke-width="1.26"/>
<line x1="815.6" y1="158.7" x2="980.6" y2="158.7" stroke="#262626" stroke-width="1.84"/>
<line x1="815.6" y1="161.8" x2="980.6" y2="161.8" stroke="#2e2e2e" stroke-width="1.61"/>
<line x1="815.6" y1="168" x2="980.6" y2="168" stroke="#262626" stroke-width="1.84"/>
<line x1="815.6" y1="171.1" x2="980.6" y2="171.1" stroke="#2e2e2e" stroke-width="1.61"/>
<line x1="815.6" y1="177.3" x2="980.6" y2="177.3" stroke="#262626" stroke-width="1.84"/>
<line x1="815.6" y1="180.4" x2="980.6" y2="180.4" stroke="#2e2e2e" stroke-width="1.61"/>
<line x1="815.6" y1="186.6" x2="980.6" y2="186.6" stroke="#262626" stroke-width="1.84"/>
<line x1="815.6" y1="189.7" x2="980.6" y2="189.7" stroke="#2e2e2e" stroke-width="1.61"/>
<line x1="815.6" y1="195.9" x2="980.6" y2="195.9" stroke="#262626" stroke-width="1.84"/>
<line x1="815.6" y1="199" x2="980.6" y2="199" stroke="#2e2e2e" stroke-width="1.61"/>
<line x1="815.6" y1="205.2" x2="980.6" y2="205.2" stroke="#262626" stroke-width="1.84"/>
<line x1="815.6" y1="208.3" x2="980.6" y2="208.3" stroke="#2e2e2e" stroke-width="1.61"/>
<line x1="815.6" y1="214.5" x2="980.6" y2="214.5" stroke="#262626" stroke-width="1.84"/>
<line x1="815.6" y1="217.6" x2="980.6" y2="217.6" stroke="#2e2e2e" stroke-width="1.61"/>
<line x1="815.6" y1="223.8" x2="980.6" y2="223.8" stroke="#262626" stroke-width="1.84"/>
<line x1="815.6" y1="226.9" x2="980.6" y2="226.9" stroke="#2e2e2e" stroke-width="1.61"/>
<line x1="815.6" y1="233.1" x2="980.6" y2="233.1" stroke="#262626" stroke-width="1.84"/>
<line x1="815.6" y1="236.2" x2="980.6" y2="236.2" stroke="#2e2e2e" stroke-width="1.61"/>
<line x1="815.6" y1="242.4" x2="980.6" y2="242.4" stroke="#262626" stroke-width="1.84"/>
<line x1="815.6" y1="245.5" x2="980.6" y2="245.5" stroke="#2e2e2e" stroke-width="1.61"/>
<line x1="814.8" y1="251.8" x2="980" y2="251.8" stroke="#222" stroke-width="2.07"/>
<circle cx="831.4" cy="160.1" r="10.2" fill="#fff" stroke="#1c1c1c" stroke-width="2.64"/>
<circle cx="831.4" cy="160.1" r="8.2" fill="#e4e4e4" stroke="#333" stroke-width="0.92"/>
<circle cx="831.4" cy="160.1" r="5.6" fill="#5e5e5e" stroke="#333" stroke-width="1.49"/>
<path d="M827.8 159.9 l1.5 -3.6 l2.1 1.3 l2.1 -1.3 l1.5 3.6 l-1.7 3.8 l-1.3 -1.8 h-1.2 l-1.3 1.8 z" fill="#fff" stroke="none" stroke-width="0"/>
<circle cx="962.4" cy="160.1" r="10.2" fill="#fff" stroke="#1c1c1c" stroke-width="2.64"/>
<circle cx="962.4" cy="160.1" r="8.2" fill="#e4e4e4" stroke="#333" stroke-width="0.92"/>
<circle cx="962.4" cy="160.1" r="5.6" fill="#5e5e5e" stroke="#333" stroke-width="1.49"/>
<path d="M958.8 159.9 l1.5 -3.6 l2.1 1.3 l2.1 -1.3 l1.5 3.6 l-1.7 3.8 l-1.3 -1.8 h-1.2 l-1.3 1.8 z" fill="#fff" stroke="none" stroke-width="0"/>
<circle cx="831.4" cy="226.2" r="10.2" fill="#fff" stroke="#1c1c1c" stroke-width="2.64"/>
<circle cx="831.4" cy="226.2" r="8.2" fill="#e4e4e4" stroke="#333" stroke-width="0.92"/>
<circle cx="831.4" cy="226.2" r="5.6" fill="#5e5e5e" stroke="#333" stroke-width="1.49"/>
<path d="M827.8 226 l1.5 -3.6 l2.1 1.3 l2.1 -1.3 l1.5 3.6 l-1.7 3.8 l-1.3 -1.8 h-1.2 l-1.3 1.8 z" fill="#fff" stroke="none" stroke-width="0"/>
<circle cx="962.4" cy="226.2" r="10.2" fill="#fff" stroke="#1c1c1c" stroke-width="2.64"/>
<circle cx="962.4" cy="226.2" r="8.2" fill="#e4e4e4" stroke="#333" stroke-width="0.92"/>
<circle cx="962.4" cy="226.2" r="5.6" fill="#5e5e5e" stroke="#333" stroke-width="1.49"/>
<path d="M958.8 226 l1.5 -3.6 l2.1 1.3 l2.1 -1.3 l1.5 3.6 l-1.7 3.8 l-1.3 -1.8 h-1.2 l-1.3 1.8 z" fill="#fff" stroke="none" stroke-width="0"/>
<line x1="976.3" y1="252" x2="976.3" y2="298" stroke="#2a2a2a" stroke-width="1.26"/>
<line x1="973.6" y1="254" x2="973.6" y2="298" stroke="#555" stroke-width="0.92"/>
<path d="M980 252 L 976.3 256" fill="none" stroke="#2a2a2a" stroke-width="1.03"/>
<line x1="814.8" y1="298.6" x2="974" y2="298.6" stroke="#222" stroke-width="2.07"/>
<path d="M974 298.6 Q 976.3 298 976.3 295" fill="none" stroke="#2a2a2a" stroke-width="1.26"/>
<line x1="814.8" y1="300.4" x2="976" y2="300.4" stroke="#555" stroke-width="0.92"/>
<rect x="893.6" y="261.6" width="71.2" height="30" fill="none" stroke="#2a2a2a" stroke-width="1.26" rx="2.6"/>
<line x1="832" y1="301.4" x2="839" y2="301.4" stroke="#444" stroke-width="1.38"/>
<line x1="955" y1="301.4" x2="962" y2="301.4" stroke="#444" stroke-width="1.38"/>
<path d="M896.6 300.6 L896.6 308 L926.6 308 L926.6 300.6" fill="none" stroke="#555" stroke-width="1.03"/>
<line x1="446.5" y1="308.5" x2="692.1" y2="308.5" stroke="#4a4a4a" stroke-width="1"/>
<line x1="446.5" y1="191.2" x2="470.5" y2="191.2" stroke="#4a4a4a" stroke-width="1"/>
<line x1="448.9" y1="191.2" x2="448.9" y2="308.5" stroke="#4a4a4a" stroke-width="1"/>
<polygon points="448.9,192 446.5,199.8 451.3,199.8" fill="#333"/>
<polygon points="448.9,307.7 446.5,299.9 451.3,299.9" fill="#333"/>
<text x="445.4" y="249.8" font-size="15" fill="#4d4d4d" text-anchor="middle" transform="rotate(-90 445.4 249.8)" textLength="51.5" lengthAdjust="spacingAndGlyphs">162[6.4]</text>
<line x1="620.8" y1="286.4" x2="668.5" y2="286.4" stroke="#4a4a4a" stroke-width="1"/>
<line x1="622.9" y1="286.4" x2="622.9" y2="360" stroke="#4a4a4a" stroke-width="1"/>
<polygon points="622.9,287.2 620.5,295 625.3,295" fill="#333"/>
<polygon points="622.9,307.7 620.5,299.9 625.3,299.9" fill="#333"/>
<text x="619.3" y="337.6" font-size="15" fill="#4d4d4d" text-anchor="middle" transform="rotate(-90 619.3 337.6)" textLength="43.5" lengthAdjust="spacingAndGlyphs">30[1.2]</text>
<line x1="670.9" y1="308.5" x2="670.9" y2="331.2" stroke="#4a4a4a" stroke-width="1"/>
<line x1="678.9" y1="308.5" x2="678.9" y2="331.2" stroke="#4a4a4a" stroke-width="1"/>
<line x1="675" y1="284" x2="675" y2="331" stroke="#4a4a4a" stroke-width="1" stroke-dasharray="10 2.5 2 2.5"/>
<line x1="675" y1="332" x2="675" y2="354" stroke="#4a4a4a" stroke-width="1"/>
<line x1="660" y1="329.3" x2="670.9" y2="329.3" stroke="#4a4a4a" stroke-width="1"/>
<polygon points="670.1,329.3 662.3,326.9 662.3,331.7" fill="#333"/>
<line x1="678.9" y1="329.3" x2="745" y2="329.3" stroke="#4a4a4a" stroke-width="1"/>
<polygon points="679.7,329.3 687.5,326.9 687.5,331.7" fill="#333"/>
<text x="716.8" y="325.4" font-size="15" fill="#4d4d4d" text-anchor="middle" textLength="55.6" lengthAdjust="spacingAndGlyphs">Ø12[0.5]</text>
<line x1="657.5" y1="311" x2="657.5" y2="376" stroke="#4a4a4a" stroke-width="1"/>
<line x1="675" y1="351.3" x2="911.2" y2="351.3" stroke="#4a4a4a" stroke-width="1"/>
<polygon points="675.8,351.3 683.6,348.9 683.6,353.7" fill="#333"/>
<polygon points="910.4,351.3 902.6,348.9 902.6,353.7" fill="#333"/>
<line x1="911.2" y1="351.3" x2="980.6" y2="351.3" stroke="#4a4a4a" stroke-width="1"/>
<polygon points="912,351.3 919.8,348.9 919.8,353.7" fill="#333"/>
<polygon points="979.8,351.3 972,348.9 972,353.7" fill="#333"/>
<line x1="657.5" y1="372.5" x2="980.6" y2="372.5" stroke="#4a4a4a" stroke-width="1"/>
<polygon points="658.3,372.5 666.1,370.1 666.1,374.9" fill="#333"/>
<polygon points="979.8,372.5 972,370.1 972,374.9" fill="#333"/>
<text x="793" y="347.7" font-size="15" fill="#4d4d4d" text-anchor="middle" textLength="61.2" lengthAdjust="spacingAndGlyphs">326[12.8]</text>
<text x="945.8" y="347.7" font-size="15" fill="#4d4d4d" text-anchor="middle" textLength="45.6" lengthAdjust="spacingAndGlyphs">96[3.8]</text>
<text x="818.3" y="369" font-size="15" fill="#4d4d4d" text-anchor="middle" textLength="58.8" lengthAdjust="spacingAndGlyphs">448[17.7]</text>
<line x1="907.2" y1="308.4" x2="907.2" y2="330.6" stroke="#4a4a4a" stroke-width="1"/>
<line x1="915.2" y1="308.4" x2="915.2" y2="330.6" stroke="#4a4a4a" stroke-width="1"/>
<line x1="911.2" y1="298" x2="911.2" y2="331" stroke="#4a4a4a" stroke-width="1" stroke-dasharray="10 2.5 2 2.5"/>
<line x1="911.2" y1="332" x2="911.2" y2="354" stroke="#4a4a4a" stroke-width="1"/>
<line x1="875" y1="328.9" x2="907.2" y2="328.9" stroke="#4a4a4a" stroke-width="1"/>
<polygon points="906.4,328.9 898.6,326.5 898.6,331.3" fill="#333"/>
<line x1="915.2" y1="328.9" x2="928" y2="328.9" stroke="#4a4a4a" stroke-width="1"/>
<polygon points="916,328.9 923.8,326.5 923.8,331.3" fill="#333"/>
<text x="875" y="326.2" font-size="15" fill="#4d4d4d" textLength="19.6" lengthAdjust="spacingAndGlyphs">M8</text>
<line x1="467" y1="433.5" x2="467" y2="616" stroke="#4a4a4a" stroke-width="1"/>
<line x1="980.6" y1="433.5" x2="980.6" y2="455" stroke="#4a4a4a" stroke-width="1"/>
<line x1="467" y1="436.6" x2="691.5" y2="436.6" stroke="#4a4a4a" stroke-width="1"/>
<polygon points="467.8,436.6 475.6,434.2 475.6,439" fill="#333"/>
<polygon points="690.7,436.6 682.9,434.2 682.9,439" fill="#333"/>
<line x1="691.5" y1="436.6" x2="980.6" y2="436.6" stroke="#4a4a4a" stroke-width="1"/>
<polygon points="692.3,436.6 700.1,434.2 700.1,439" fill="#333"/>
<polygon points="979.8,436.6 972,434.2 972,439" fill="#333"/>
<text x="579.2" y="432.3" font-size="15" fill="#4d4d4d" text-anchor="middle" textLength="19.4" lengthAdjust="spacingAndGlyphs">M1</text>
<text x="836.4" y="433" font-size="15" fill="#4d4d4d" text-anchor="middle" textLength="59.6" lengthAdjust="spacingAndGlyphs">397[15.6]</text>
<path d="M483.8 473.7 H 528.7 V 632.3 H 483.8 Q 469 632.3 469 617.3 V 488.7 Q 469 473.7 483.8 473.7 Z" fill="#fff" stroke="#2a2a2a" stroke-width="1.26"/>
<line x1="483.8" y1="473.7" x2="483.8" y2="632.3" stroke="#2a2a2a" stroke-width="1.15"/>
<rect x="528.7" y="474.1" width="126.3" height="3.4" fill="#262626"/>
<line x1="528.7" y1="478.6" x2="655" y2="478.6" stroke="#999" stroke-width="1.49"/>
<line x1="528.7" y1="482.3" x2="654" y2="482.3" stroke="#444" stroke-width="1.03"/>
<line x1="528.7" y1="484.5" x2="654" y2="484.5" stroke="#333" stroke-width="1.03"/>
<rect x="528.7" y="628.3" width="126.3" height="3.4" fill="#262626"/>
<line x1="528.7" y1="627.3" x2="655" y2="627.3" stroke="#999" stroke-width="1.49"/>
<line x1="528.7" y1="623.7" x2="653.5" y2="623.7" stroke="#444" stroke-width="1.03"/>
<line x1="528.7" y1="621.5" x2="653.5" y2="621.5" stroke="#333" stroke-width="1.03"/>
<path d="M528.7 514 L612.2 514 L654.3 485" fill="none" stroke="#2a2a2a" stroke-width="1.15"/>
<path d="M528.7 592 L612.2 592 L654.3 621" fill="none" stroke="#2a2a2a" stroke-width="1.15"/>
<line x1="612.2" y1="514" x2="612.2" y2="592" stroke="#2a2a2a" stroke-width="1.15"/>
<rect x="528.7" y="516.3" width="125.2" height="4.4" fill="#fff" stroke="#333" stroke-width="1.03"/>
<rect x="528.7" y="527.9" width="125.2" height="4.4" fill="#fff" stroke="#333" stroke-width="1.03"/>
<rect x="528.7" y="539.5" width="125.2" height="4.4" fill="#fff" stroke="#333" stroke-width="1.03"/>
<rect x="528.7" y="551.1" width="125.2" height="4.4" fill="#fff" stroke="#333" stroke-width="1.03"/>
<rect x="528.7" y="562.7" width="125.2" height="4.4" fill="#fff" stroke="#333" stroke-width="1.03"/>
<rect x="528.7" y="574.3" width="125.2" height="4.4" fill="#fff" stroke="#333" stroke-width="1.03"/>
<rect x="528.7" y="585.9" width="125.2" height="4.4" fill="#fff" stroke="#333" stroke-width="1.03"/>
<line x1="612.2" y1="514" x2="612.2" y2="592" stroke="#2a2a2a" stroke-width="1.15"/>
<line x1="655" y1="473.7" x2="655" y2="632.3" stroke="#2a2a2a" stroke-width="1.26"/>
<line x1="656.9" y1="473.7" x2="656.9" y2="632.3" stroke="#555" stroke-width="0.92"/>
<line x1="662.4" y1="473.7" x2="662.4" y2="632.3" stroke="#555" stroke-width="0.92"/>
<line x1="664.1" y1="473.7" x2="664.1" y2="632.3" stroke="#2a2a2a" stroke-width="1.26"/>
<line x1="655" y1="473.7" x2="664.1" y2="473.7" stroke="#2a2a2a" stroke-width="1.26"/>
<line x1="655" y1="632.3" x2="664.1" y2="632.3" stroke="#2a2a2a" stroke-width="1.26"/>
<rect x="677" y="491.3" width="3.4" height="13.2" fill="none" stroke="#333" stroke-width="0.92"/>
<line x1="677" y1="498" x2="680.4" y2="498" stroke="#555" stroke-width="0.8"/>
<rect x="677" y="600.8" width="3.4" height="13.6" fill="none" stroke="#333" stroke-width="0.92"/>
<line x1="677" y1="607.5" x2="680.4" y2="607.5" stroke="#555" stroke-width="0.8"/>
<line x1="664.6" y1="474.6" x2="680.4" y2="485" stroke="#2a2a2a" stroke-width="1.15"/>
<path d="M667.5 476.6 Q 677 474.5 680.3 483.8" fill="none" stroke="#444" stroke-width="1.03"/>
<path d="M669.5 478 Q 676 477 679.8 485" fill="none" stroke="#666" stroke-width="0.92"/>
<path d="M656.8 474.2 V 463.4 H 662.2 L 664.6 461.6 H 680.8" fill="none" stroke="#2a2a2a" stroke-width="1.15"/>
<path d="M658.2 474.2 V 464.8 H 663 L 665 463.2 H 680.8" fill="none" stroke="#555" stroke-width="0.92"/>
<line x1="664.6" y1="630.6" x2="680.4" y2="620.2" stroke="#2a2a2a" stroke-width="1.15"/>
<path d="M667.5 628.6 Q 677 630.7 680.3 621.4" fill="none" stroke="#444" stroke-width="1.03"/>
<path d="M669.5 627.2 Q 676 628.2 679.8 620.2" fill="none" stroke="#666" stroke-width="0.92"/>
<path d="M657 631.9 V 643.5 H 680.5" fill="none" stroke="#2a2a2a" stroke-width="1.26"/>
<path d="M660 631.9 V 640.6 H 680.5" fill="none" stroke="#555" stroke-width="0.92"/>
<rect x="680.8" y="449.6" width="133.4" height="12.6" fill="#fff"/>
<line x1="680.8" y1="449.7" x2="814.2" y2="449.7" stroke="#222" stroke-width="2.3"/>
<line x1="682" y1="452.6" x2="812" y2="452.6" stroke="#444" stroke-width="1.03"/>
<line x1="682" y1="453.9" x2="812" y2="453.9" stroke="#777" stroke-width="0.8"/>
<line x1="680.8" y1="461" x2="814.2" y2="461" stroke="#555" stroke-width="1.03"/>
<line x1="680.8" y1="462.4" x2="812" y2="462.4" stroke="#222" stroke-width="1.84"/>
<line x1="680.8" y1="449" x2="680.8" y2="695.4" stroke="#2a2a2a" stroke-width="1.38"/>
<line x1="682.6" y1="451" x2="682.6" y2="461" stroke="#666" stroke-width="0.8"/>
<line x1="709.7" y1="462.4" x2="709.7" y2="643" stroke="#444" stroke-width="1.03"/>
<line x1="711.8" y1="462.4" x2="711.8" y2="643" stroke="#333" stroke-width="1.49"/>
<line x1="811.4" y1="450" x2="811.4" y2="643" stroke="#444" stroke-width="1.03"/>
<line x1="814.2" y1="449" x2="814.2" y2="695.4" stroke="#222" stroke-width="2.07"/>
<line x1="680.8" y1="643.3" x2="814.2" y2="643.3" stroke="#222" stroke-width="1.49"/>
<line x1="711" y1="642" x2="812" y2="642" stroke="#666" stroke-width="0.8"/>
<line x1="680.8" y1="695.4" x2="814.2" y2="695.4" stroke="#222" stroke-width="1.49"/>
<line x1="714" y1="696.6" x2="719" y2="696.6" stroke="#444" stroke-width="1.38"/>
<line x1="774" y1="696.6" x2="781" y2="696.6" stroke="#444" stroke-width="1.38"/>
<path d="M814.2 451.3 H 975 Q 979.9 451.3 979.9 456.5 V 690" fill="none" stroke="#2a2a2a" stroke-width="1.67"/>
<path d="M814.2 453.6 H 974 Q 977.8 453.6 977.8 457.5 V 600" fill="none" stroke="#444" stroke-width="1.03"/>
<path d="M814.2 456.4 H 971 Q 974.2 456.4 974.2 459.6 V 693" fill="none" stroke="#2a2a2a" stroke-width="1.49"/>
<line x1="957.8" y1="452" x2="957.8" y2="597" stroke="#444" stroke-width="1.03"/>
<line x1="960" y1="452" x2="960" y2="597" stroke="#333" stroke-width="1.26"/>
<line x1="814.2" y1="574.8" x2="974" y2="574.8" stroke="#444" stroke-width="1.26"/>
<line x1="814.2" y1="597.4" x2="974" y2="597.4" stroke="#333" stroke-width="1.26"/>
<line x1="814.2" y1="599.4" x2="960" y2="599.4" stroke="#555" stroke-width="0.92"/>
<line x1="814.2" y1="628" x2="974" y2="628" stroke="#555" stroke-width="0.92"/>
<line x1="814.2" y1="630.4" x2="974" y2="630.4" stroke="#333" stroke-width="1.38"/>
<line x1="814.2" y1="650.5" x2="926" y2="650.5" stroke="#444" stroke-width="1.03"/>
<line x1="969" y1="650.5" x2="974" y2="650.5" stroke="#444" stroke-width="1.03"/>
<line x1="814.2" y1="675" x2="928" y2="675" stroke="#444" stroke-width="1.03"/>
<line x1="816" y1="678" x2="928" y2="678" stroke="#555" stroke-width="0.92"/>
<line x1="967" y1="675" x2="977" y2="675" stroke="#444" stroke-width="1.03"/>
<line x1="967" y1="678" x2="977" y2="678" stroke="#555" stroke-width="0.92"/>
<path d="M814.2 693.2 H 977 Q 979.9 693 979.9 690" fill="none" stroke="#222" stroke-width="1.84"/>
<path d="M816.5 678 L 814.8 693" fill="none" stroke="#555" stroke-width="0.92"/>
<line x1="976.3" y1="597" x2="976.3" y2="693" stroke="#555" stroke-width="0.92"/>
<path d="M979.9 625 Q 981.6 626 981.6 629 V 666 Q 981.6 669 979.9 670" fill="none" stroke="#333" stroke-width="1.15"/>
<circle cx="836.3" cy="567.1" r="14" fill="#fff" stroke="#2a2a2a" stroke-width="1.26"/>
<circle cx="836.3" cy="567.1" r="11.6" fill="none" stroke="#333" stroke-width="1.15"/>
<circle cx="836.3" cy="567.1" r="9.5" fill="none" stroke="#2a2a2a" stroke-width="1.84"/>
<path d="M832.6 555.4 Q 832.6 551.2 836.4 551.2 Q 840.3 551.2 840.3 555.4 V 580 Q 840.3 584 836.4 584 Q 832.6 584 832.6 580 Z" fill="#fff" stroke="#2a2a2a" stroke-width="1.26"/>
<line x1="832.6" y1="567.3" x2="840.3" y2="567.3" stroke="#444" stroke-width="1.03"/>
<circle cx="854.9" cy="589.3" r="4.5" fill="#fff" stroke="#333" stroke-width="1.26"/>
<circle cx="854.9" cy="589.3" r="1.9" fill="none" stroke="#333" stroke-width="1.03"/>
<circle cx="941.5" cy="589.3" r="4.5" fill="#fff" stroke="#333" stroke-width="1.26"/>
<circle cx="941.5" cy="589.3" r="1.9" fill="none" stroke="#333" stroke-width="1.03"/>
<circle cx="822.4" cy="622.7" r="3.1" fill="#bbb" stroke="#1c1c1c" stroke-width="2.53"/>
<circle cx="873" cy="622.7" r="3.1" fill="#bbb" stroke="#1c1c1c" stroke-width="2.53"/>
<circle cx="923.5" cy="622.7" r="3.1" fill="#bbb" stroke="#1c1c1c" stroke-width="2.53"/>
<circle cx="967.2" cy="622.7" r="3.1" fill="#bbb" stroke="#1c1c1c" stroke-width="2.53"/>
<ellipse cx="847.4" cy="642.4" rx="18.4" ry="7.4" fill="#fff" stroke="#2a2a2a" stroke-width="1"/>
<ellipse cx="847.4" cy="642.4" rx="16.6" ry="5.8" fill="none" stroke="#666" stroke-width="0.7"/>
<rect x="839.4" y="640.6" width="16.3" height="13" fill="#fff" stroke="#333" stroke-width="1.03"/>
<line x1="909" y1="614" x2="964" y2="614" stroke="#4a4a4a" stroke-width="1" stroke-dasharray="5 2.5"/>
<path d="M928 600.4 H 976 M 974.2 600.4 V 627 M 936 627 H 974.2" fill="none" stroke="#4a4a4a" stroke-width="1" stroke-dasharray="5 2.5"/>
<line x1="948.1" y1="512" x2="948.1" y2="630" stroke="#4a4a4a" stroke-width="1" stroke-dasharray="7 3"/>
<circle cx="948.1" cy="614" r="12.4" fill="none" stroke="#1c1c1c" stroke-width="2.64"/>
<circle cx="948.1" cy="614" r="10.6" fill="none" stroke="#777" stroke-width="0.8"/>
<path d="M927.2 642.8 V 637.8 Q 947.2 633.2 967 637.8 V 642.8" fill="#fff" stroke="#333" stroke-width="1.03"/>
<path d="M929 642.4 V 639.6 Q 947.2 635.6 965.2 639.6 V 642.4" fill="none" stroke="#777" stroke-width="0.8"/>
<line x1="945.7" y1="635.4" x2="945.7" y2="642.6" stroke="#555" stroke-width="0.92"/>
<line x1="948.9" y1="635.4" x2="948.9" y2="642.6" stroke="#555" stroke-width="0.92"/>
<path d="M926.1 645.6 Q 926.1 642.7 929.2 642.7 H 966 Q 969.2 642.7 969.2 645.6 V 673.2 Q 947.6 667.2 926.1 673.2 Z" fill="#fff" stroke="#2a2a2a" stroke-width="1.15"/>
<path d="M926.1 673.2 L 927 678 Q 947.6 672 968.3 678 L 969.2 673.2" fill="#fff" stroke="#333" stroke-width="1.03"/>
<path d="M926.1 673.2 Q 947.6 667.2 969.2 673.2" fill="none" stroke="#333" stroke-width="1.03"/>
<path d="M929.6 679 V 690.4 H 965.2 V 679" fill="#fff" stroke="#2a2a2a" stroke-width="1.15"/>
<path d="M927 678 Q 947.6 672 968.3 678" fill="#fff" stroke="#333" stroke-width="1.03"/>
<path d="M928.2 679.4 Q 947.6 674 967 679.4" fill="none" stroke="#777" stroke-width="0.8"/>
<ellipse cx="947.4" cy="690.5" rx="17.6" ry="5.1" fill="#fff" stroke="#333" stroke-width="1"/>
<ellipse cx="947.4" cy="690.8" rx="13.2" ry="3.5" fill="none" stroke="#444" stroke-width="0.9"/>
<text x="925" y="612" font-size="14.5" fill="#1d4f7c">1</text>
<text x="943.6" y="662.4" font-size="14.5" fill="#1d4f7c">2</text>
<rect x="819.4" y="696.3" width="24.6" height="11.1" fill="#1e1e1e" rx="1.8"/>
<rect x="950.2" y="696.3" width="24.8" height="11.1" fill="#1e1e1e" rx="1.8"/>
<line x1="826" y1="694.6" x2="838" y2="694.6" stroke="#333" stroke-width="1.38"/>
<line x1="956" y1="694.6" x2="969" y2="694.6" stroke="#333" stroke-width="1.38"/>
<line x1="464.5" y1="553.1" x2="984" y2="553.1" stroke="#5a5a5a" stroke-width="1.61" stroke-dasharray="7 3.8"/>
<line x1="691.5" y1="433.5" x2="691.5" y2="461" stroke="#4a4a4a" stroke-width="1"/>
<line x1="691.5" y1="467" x2="691.5" y2="651" stroke="#5a5a5a" stroke-width="1.61" stroke-dasharray="7.8 5.4"/>
<line x1="899" y1="523.2" x2="979.8" y2="523.2" stroke="#4a4a4a" stroke-width="1"/>
<polygon points="949,523.2 956.8,520.8 956.8,525.6" fill="#333"/>
<polygon points="978.7,523.2 970.9,520.8 970.9,525.6" fill="#333"/>
<text x="921.8" y="518.5" font-size="15" fill="#4d4d4d" text-anchor="middle" textLength="44" lengthAdjust="spacingAndGlyphs">46[1.8]</text>
<line x1="911.5" y1="553.1" x2="911.5" y2="614" stroke="#4a4a4a" stroke-width="1"/>
<polygon points="911.5,553.9 909.1,561.7 913.9,561.7" fill="#333"/>
<polygon points="911.5,613.2 909.1,605.4 913.9,605.4" fill="#333"/>
<text x="907.8" y="584" font-size="15" fill="#4d4d4d" text-anchor="middle" transform="rotate(-90 907.8 584)" textLength="44" lengthAdjust="spacingAndGlyphs">85[3.3]</text>
<line x1="976.4" y1="600.3" x2="1009" y2="600.3" stroke="#4a4a4a" stroke-width="1"/>
<line x1="976.4" y1="627.3" x2="1009" y2="627.3" stroke="#4a4a4a" stroke-width="1"/>
<line x1="1005.9" y1="576" x2="1005.9" y2="627.3" stroke="#4a4a4a" stroke-width="1"/>
<polygon points="1005.9,601.1 1003.5,608.9 1008.3,608.9" fill="#333"/>
<polygon points="1005.9,626.5 1003.5,618.7 1008.3,618.7" fill="#333"/>
<text x="1004" y="586" font-size="15" fill="#4d4d4d" text-anchor="middle" transform="rotate(-90 1004 586)" textLength="19.6" lengthAdjust="spacingAndGlyphs">G1</text>
<text x="34.6" y="538.9" font-size="14.6" fill="#1d4f7c" stroke="#1d4f7c" stroke-width="0.3">1</text>
<text x="50.4" y="538.9" font-size="14.6" fill="#3c3c3c" textLength="172.8" lengthAdjust="spacingAndGlyphs">Vacuum connection (G1)</text>
<text x="34.6" y="559.83" font-size="14.6" fill="#1d4f7c" stroke="#1d4f7c" stroke-width="0.3">2</text>
<text x="50.4" y="559.83" font-size="14.6" fill="#3c3c3c" textLength="169.8" lengthAdjust="spacingAndGlyphs">Vacuum regulating valve</text>
<text x="34.6" y="580.76" font-size="14.6" fill="#1d4f7c" stroke="#1d4f7c" stroke-width="0.3">L</text>
<text x="50.4" y="580.76" font-size="14.6" fill="#3c3c3c" textLength="251.2" lengthAdjust="spacingAndGlyphs">Overall device length <tspan fill="#1d4f7c" stroke="#1d4f7c" stroke-width="0.3">L1</tspan> with motor.</text>
<text x="50.4" y="601.69" font-size="14.6" fill="#3c3c3c" textLength="247.9" lengthAdjust="spacingAndGlyphs"><tspan fill="#1d4f7c" stroke="#1d4f7c" stroke-width="0.3">L1</tspan> and <tspan fill="#1d4f7c" stroke="#1d4f7c" stroke-width="0.3">M1</tspan> are variable, see separate</text>
<text x="50.4" y="622.62" font-size="14.6" fill="#3c3c3c" textLength="181.1" lengthAdjust="spacingAndGlyphs">motor specification sheet.</text>
<rect x="35.2" y="637.35" width="3.2" height="3.2" fill="#333"/>
<text x="50.4" y="643.55" font-size="14.6" fill="#3c3c3c" textLength="251.2" lengthAdjust="spacingAndGlyphs">Including integrated suction air filter</text>
<text x="50.4" y="664.48" font-size="14.6" fill="#3c3c3c" textLength="130.6" lengthAdjust="spacingAndGlyphs">and blow-off valve</text>
<rect x="35.2" y="679.21" width="3.2" height="3.2" fill="#333"/>
<text x="50.4" y="685.41" font-size="14.6" fill="#3c3c3c" textLength="220.3" lengthAdjust="spacingAndGlyphs">The motor illustration may vary.</text>
<rect x="35.2" y="700.14" width="3.2" height="3.2" fill="#333"/>
<text x="50.4" y="706.34" font-size="14.6" fill="#3c3c3c" textLength="172.8" lengthAdjust="spacingAndGlyphs">Dimensions in mm [inch]</text>
</svg>
</body></html>
